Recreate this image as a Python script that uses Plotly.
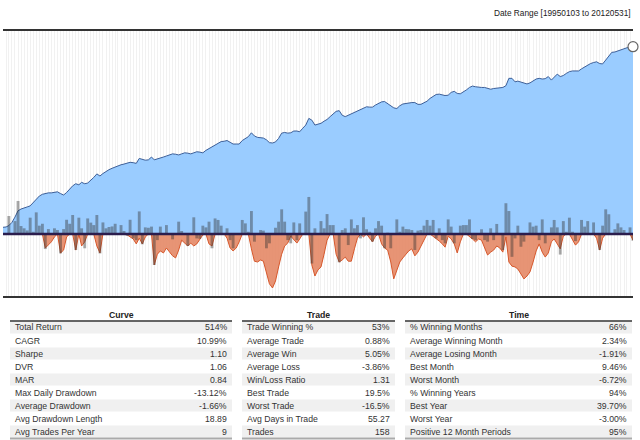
import plotly.graph_objects as go
import pandas as pd

# monthly points, Jan 1995 .. May 2012
months = pd.date_range("1995-01-01", "2012-05-01", freq="MS")

# equity curve (hidden axis units, baseline = 0)
equity = [
    19, 20, 24, 33, 48, 66, 71, 75, 77, 80, 90, 98,
    108, 113, 116, 117, 117, 118, 120, 115, 111, 118, 128, 137,
    143, 140, 147, 143, 145, 152, 161, 171, 165, 172, 178, 183,
    187, 191, 194, 197, 199, 201, 204, 203, 201, 215, 212, 210,
    211, 219, 211, 213, 216, 219, 222, 225, 228, 227, 225, 228,
    231, 230, 228, 231, 234, 233, 231, 238, 243, 248, 253, 258,
    263, 264, 266, 261, 256, 256, 256, 266, 272, 277, 288, 279,
    275, 275, 273, 268, 260, 259, 262, 272, 287, 289, 287, 288,
    293, 293, 291, 301, 310, 329, 324, 310, 312, 315, 321, 326,
    334, 343, 349, 351, 338, 334, 338, 342, 346, 349, 353, 357,
    362, 361, 361, 367, 372, 376, 377, 371, 365, 359, 357, 365,
    370, 372, 374, 374, 374, 369, 369, 373, 378, 386, 392, 397,
    398, 396, 394, 395, 403, 406, 400, 399, 404, 410, 417, 421,
    419, 417, 417, 417, 414, 412, 414, 415, 418, 417, 422, 443,
    443, 433, 435, 432, 428, 427, 430, 435, 441, 443, 441, 442,
    448, 438, 447, 455, 448, 451, 457, 462, 464, 463, 464, 470,
    476, 481, 485, 488, 490, 485, 484, 495, 507, 517, 518, 521,
    526, 529, 530, 532, 533,
]

# drawdown in %
drawdown = [
    0, 0, 0, 0, 0, 0, 0, 0, 0, 0, 0, 0,
    0, 0, -3.4, -2.7, -1.9, -0.7, 0, -4.6, -3.9, -0.7, 0, 0,
    -3.9, 0, -2.9, -1.9, 0, 0, 0, -2.9, -4.6, 0, 0, 0,
    0, 0, 0, 0, 0, -0.2, -0.7, -1.2, -2.4, -1.0, -2.4, -0.7,
    0, 0, -7.5, -4.9, -4.1, -4.6, -3.4, -4.4, -5.3, -5.8, -3.9, -1.5,
    -2.2, -2.9, -2.2, -2.9, -2.4, -1.2, -0.2, 0, -2.4, -2.9, 0, 0,
    0, 0, -1.0, -3.4, -4.1, -3.4, -1.9, 0, 0, 0, -3.6, -6.6,
    -6.8, -6.3, -6.6, -9.2, -12.1, -13.1, -11.4, -8.0, -4.9, -2.9, -2.2, -0.5,
    -1.5, -2.2, -1.2, 0, 0, 0, -7.5, -10.2, -8.7, -8.0, -4.9, -1.5,
    0, 0, -4.9, -6.8, -6.3, -5.6, -6.6, -6.6, -3.6, -1.0, 0, -0.7,
    0, -1.0, -1.9, -0.5, 0, -2.4, -3.4, -3.9, -6.8, -10.9, -8.7, -6.8,
    -5.8, -4.9, -4.1, -3.6, -5.3, -4.4, -2.9, -1.7, 0, 0, -0.5, -1.0,
    -1.7, -2.4, -3.2, -0.5, -1.2, -2.4, -4.6, -1.9, 0, 0, -0.5, -1.2,
    -1.9, -1.2, -1.5, -3.4, -5.1, -4.4, -3.9, -2.9, -3.4, -4.4, -0.7, -6.8,
    -7.8, -8.0, -8.5, -9.7, -10.9, -10.2, -9.2, -6.8, -4.1, -2.4, -4.4, -5.6,
    -4.6, -1.9, -1.2, -2.4, -3.6, -0.5, 0, 0, -1.5, -2.7, -1.9, 0,
    0, 0, 0, 0, -1.0, -3.9, -1.0, 0, 0, 0, 0, 0,
    0, 0, 0, 0, -1.5,
]

# trade returns in % (month of exit)
trade_returns = [
    None, None, 9.5, None, 6.8, 17.4, 4.2, 3.0, 1.9, 8.6, 1.2, 11.4,
    4.4, 5.4, -7.9, 2.6, None, 3.0, 2.1, -10.2, 2.6, 7.5, 5.4, 10.0,
    -8.4, 8.6, 3.0, -7.5, 8.2, 6.0, 4.7, 10.0, -10.2, 6.1, 3.0, 3.7,
    4.0, 5.4, None, 4.7, 1.6, -0.9, 7.5, -2.3, -3.2, 11.9, -5.4, 3.5,
    3.3, 3.9, -16.3, -3.2, 3.9, None, 4.7, None, -2.8, None, 6.5, 1.6,
    None, -6.3, None, 8.8, -2.3, -2.5, 4.4, 3.5, 6.5, -7.5, 8.2, 7.4,
    4.4, None, 3.0, -3.2, -7.5, None, None, 7.4, 5.6, 1.2, 12.1, -4.0,
    None, 2.1, 1.8, -7.5, -4.9, None, 3.3, 6.5, 13.0, 6.5, -3.2, -4.9,
    6.1, -3.2, 5.6, None, 11.8, 19.5, -15.5, 3.0, None, 6.8, 3.0, 10.5,
    4.7, 4.7, None, -14.9, 2.1, 3.0, -5.8, 7.7, 3.0, 4.7, -2.3, 8.8,
    2.5, 1.2, -4.0, 3.0, 6.8, 4.4, -7.5, 0.7, -7.5, None, 7.7, 1.2,
    3.9, 2.6, 2.5, 2.1, -8.4, 1.8, 2.1, 4.4, 7.4, 4.4, 7.4, -2.3,
    3.0, -3.2, -4.9, 7.7, 3.9, -4.9, None, 4.4, 4.7, 4.7, 7.7, -2.6,
    -3.2, None, 2.5, -3.2, -4.0, 3.0, -3.2, 5.3, None, -8.4, 16.2, 12.1,
    -12.0, -2.3, 4.4, -6.7, -4.0, None, 6.1, 3.9, 4.4, -3.2, 7.7, -4.9,
    None, 3.5, 7.4, 3.5, -10.8, 6.8, 1.2, 8.6, 1.2, -3.7, None, 7.4,
    3.9, 6.8, None, 6.1, None, -8.4, 4.4, 13.0, 10.4, -0.5, 2.5, 5.6,
    3.5, 2.1, None, 3.5, -3.5,
]

curve_labels = ["Total Return", "CAGR", "Sharpe", "DVR", "MAR", "Max Daily Drawdown",
                "Average Drawdown", "Avg Drawdown Length", "Avg Trades Per Year"]
curve_values = ["514%", "10.99%", "1.10", "1.06", "0.84", "-13.12%", "-1.66%", "18.89", "9"]

trade_labels = ["Trade Winning %", "Average Trade", "Average Win", "Average Loss",
                "Win/Loss Ratio", "Best Trade", "Worst Trade", "Avg Days in Trade", "Trades"]
trade_values = ["53%", "0.88%", "5.05%", "-3.86%", "1.31", "19.5%", "-16.5%", "55.27", "158"]

time_labels = ["% Winning Months", "Average Winning Month", "Average Losing Month", "Best Month",
               "Worst Month", "% Winning Years", "Best Year", "Worst Year", "Positive 12 Month Periods"]
time_values = ["66%", "2.34%", "-1.91%", "9.46%", "-6.72%", "94%", "39.70%", "-3.00%", "95%"]

FONT = "Liberation Sans"
W, H, T, L = 640, 440, 31, 3
PLOT_W = W - L - 7
PLOT_H = H - T


def px_x(x):
    return (x - L) / PLOT_W


def px_y(y):
    return (H - y) / PLOT_H


fig = go.Figure()

fig.add_trace(go.Scatter(
    x=months, y=equity, mode="lines", yaxis="y",
    line=dict(color="#3d5f98", width=1),
    fill="tozeroy", fillcolor="rgba(150,202,255,0.96)",
    hoverinfo="skip",
))
fig.add_trace(go.Scatter(
    x=months, y=drawdown, mode="lines", yaxis="y2",
    line=dict(color="#d6582c", width=1),
    fill="tozeroy", fillcolor="rgba(228,136,102,0.9)",
    hoverinfo="skip",
))
fig.add_trace(go.Bar(
    x=months, y=trade_returns, yaxis="y3",
    width=29 * 86400000,
    marker=dict(color="rgba(50,50,50,0.42)", line=dict(width=0)),
    hoverinfo="skip",
))
fig.add_trace(go.Scatter(
    x=[months[-1]], y=[equity[-1]], mode="markers", yaxis="y",
    marker=dict(size=10, color="white", line=dict(color="#666666", width=1.2)),
    cliponaxis=False, hoverinfo="skip",
))

annotations = [dict(
    text="Date Range [19950103 to 20120531]", xref="paper", yref="paper",
    x=1, y=px_y(13), xanchor="right", yanchor="middle", showarrow=False,
    font=dict(family=FONT, size=8.3, color="#222222"),
)]
shapes = [dict(
    type="line", xref="paper", yref="y2", x0=0, x1=1, y0=0, y1=0,
    line=dict(color="#2b1d4d", width=2.5), layer="above",
)]

# stats tables: (title, labels, values, left px, right px)
tables = [
    ("Curve", curve_labels, curve_values, 10, 232),
    ("Trade", trade_labels, trade_values, 242, 395),
    ("Time", time_labels, time_values, 405, 632),
]
ROW0, ROW_H = 321, 13

for title, labels, values, left, right in tables:
    x0, x1 = px_x(left), px_x(right)
    annotations.append(dict(
        text="<b>" + title + "</b>", xref="paper", yref="paper",
        x=(x0 + x1) / 2, y=px_y(315), xanchor="center", yanchor="middle", showarrow=False,
        font=dict(family=FONT, size=8.7, color="#222222"),
    ))
    for i, (lab, val) in enumerate(zip(labels, values)):
        top = ROW0 + i * ROW_H
        if i % 2 == 0:
            shapes.append(dict(type="rect", xref="paper", yref="paper", x0=x0, x1=x1,
                               y0=px_y(top + ROW_H - 0.5), y1=px_y(top + 0.5),
                               fillcolor="#f0f0f0", line=dict(width=0), layer="below"))
        mid = px_y(top + ROW_H / 2)
        annotations.append(dict(text=lab, xref="paper", yref="paper", x=px_x(left + 3), y=mid,
                                xanchor="left", yanchor="middle", showarrow=False,
                                font=dict(family=FONT, size=8.7, color="#333333")))
        annotations.append(dict(text=val, xref="paper", yref="paper", x=px_x(right - 3), y=mid,
                                xanchor="right", yanchor="middle", showarrow=False,
                                font=dict(family=FONT, size=8.7, color="#333333")))
    shapes.append(dict(type="line", xref="paper", yref="paper", x0=x0, x1=x1,
                       y0=px_y(ROW0), y1=px_y(ROW0), line=dict(color="#333333", width=1.5)))
    bottom = px_y(ROW0 + 9 * ROW_H + 0.5)
    shapes.append(dict(type="line", xref="paper", yref="paper", x0=x0, x1=x1,
                       y0=bottom, y1=bottom, line=dict(color="#aaaaaa", width=2)))

fig.update_layout(
    width=W, height=H,
    margin=dict(l=L, r=7, t=T, b=0),
    paper_bgcolor="white", plot_bgcolor="white",
    showlegend=False,
    xaxis=dict(
        domain=[0, 1], range=["1995-01-01", "2012-05-01"],
        showgrid=True, dtick="M1", gridcolor="#f1f1f1", gridwidth=1,
        showline=True, mirror=True, linecolor="#333333", linewidth=2,
        showticklabels=False, ticks="", zeroline=False,
    ),
    yaxis=dict(domain=[px_y(296), 1], range=[-176.5, 577.7], visible=False),
    yaxis2=dict(overlaying="y", range=[-15.05, 49.3], visible=False),
    yaxis3=dict(overlaying="y", range=[-32.6, 106.8], visible=False),
    annotations=annotations,
    shapes=shapes,
)

fig.write_html(
    "out.html",
    config={"displayModeBar": False},
    post_script="document.body.style.margin='0';",
)
